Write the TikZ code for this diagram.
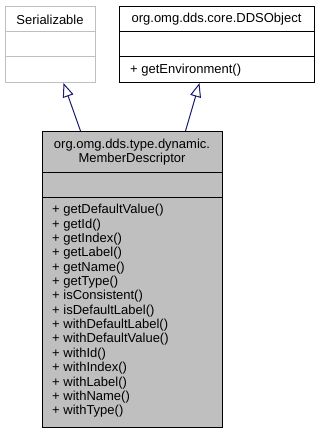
\documentclass[tikz,border=0pt]{standalone}
\usepackage{fontspec}
\setmainfont{Liberation Sans}
\usetikzlibrary{arrows.meta}
\definecolor{grayborder}{HTML}{BFBFBF}
\definecolor{boxfill}{HTML}{BFBFBF}
\definecolor{midblue}{HTML}{191970}
\begin{document}
\begin{tikzpicture}[x=1pt,y=-1pt,
  every node/.style={font=\fontsize{13}{14.3}\selectfont, inner sep=0pt},
  classbox/.style={draw, line width=1pt, minimum width=#1, anchor=north west, rectangle},
  sep/.style={line width=1pt},
  member/.style={anchor=base west},
  inherit/.style={draw=midblue, line width=1pt, -{Triangle[open, length=14pt, width=11pt, line width=1pt]}}
]
\useasboundingbox (0,0) rectangle (319,433);
% Serializable (undocumented, grey border)
\node[classbox=90, minimum height=76, draw=grayborder, fill=white] (ser) at (5,6) {};
\draw[sep, grayborder] (5,32) -- (95,32);
\draw[sep, grayborder] (5,57) -- (95,57);
\node[anchor=center] (sert) at (50,19.5) {Serializable};
% DDSObject
\node[classbox=195, minimum height=76, fill=white] (dds) at (119,6) {};
\draw[sep] (119,32) -- (314,32);
\draw[sep] (119,57) -- (314,57);
\node[anchor=center] (ddst) at (216.5,19.5) {org.omg.dds.core.DDSObject};
\node[member] (ddsm) at (130,74) {+ getEnvironment()};
% MemberDescriptor
\node[classbox=180, minimum height=296, fill=boxfill] (main) at (42,131) {};
\draw[sep] (42,172) -- (222,172);
\draw[sep] (42,197) -- (222,197);
\node[align=center, anchor=center] (maint) at (132,152) {org.omg.dds.type.dynamic.\\MemberDescriptor};
\foreach \t [count=\i from 0] in {getDefaultValue(), getId(), getIndex(), getLabel(), getName(), getType(), isConsistent(), isDefaultLabel(), withDefaultLabel(), withDefaultValue(), withId(), withIndex(), withLabel(), withName(), withType()}
  \node[member] (m\i) at (52,213.8+14.35*\i) {+ \t};
% inheritance arrows
\draw[inherit] ([xshift=-52pt]main.north) -- ([xshift=13pt]ser.south);
\draw[inherit] ([xshift=53pt]main.north) -- ([xshift=-17.5pt]dds.south);
\end{tikzpicture}
\end{document}
